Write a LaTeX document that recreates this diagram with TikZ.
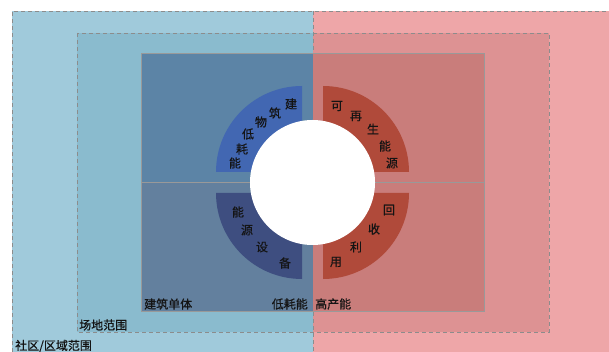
\documentclass[tikz,border=0pt]{standalone}
\usepackage{fontspec}
\setmainfont{Noto Sans CJK SC}
\newfontfamily\medfont{Noto Sans CJK SC}[FakeBold=0.6]
\definecolor{outblue}{HTML}{A0CADB}
\definecolor{outpink}{HTML}{EEA6A8}
\definecolor{midblue}{HTML}{8ABBCE}
\definecolor{midpink}{HTML}{DD9293}
\definecolor{inblueT}{HTML}{5C84A6}
\definecolor{inblueB}{HTML}{63809E}
\definecolor{inpink}{HTML}{C97D7B}
\definecolor{secblue}{HTML}{4267B2}
\definecolor{secnavy}{HTML}{3E4E80}
\definecolor{secred}{HTML}{B04A3A}
\definecolor{txt}{HTML}{141414}
\begin{document}
\begin{tikzpicture}[x=1pt,y=-1pt,
  dashbox/.style={draw=black!45, dash pattern=on 4pt off 3pt, line width=0.6pt},
  innerline/.style={draw=black!40, line width=0.6pt},
  lab/.style={inner sep=0pt, text=txt, font=\medfont\fontsize{12}{12}\selectfont},
  ch/.style={inner sep=0pt, text=txt, font=\medfont\fontsize{12}{12}\selectfont}]
\useasboundingbox (0,0) rectangle (609,352);
% outer region
\fill[outblue] (12,11) rectangle (313,352);
\fill[outpink] (313,11) rectangle (609,352);
% site region
\fill[midblue] (77,33) rectangle (313,332);
\fill[midpink] (313,33) rectangle (549,332);
% dashed frames
\draw[dashbox] (12,352) -- (12,11) -- (609,11);
\draw[dashbox] (77,33) rectangle (549,332);
\draw[dashbox] (313,11) -- (313,352);
% building
\fill[inblueT] (141,53) rectangle (313,182);
\fill[inblueB] (141,182) rectangle (313,311);
\fill[inpink] (313,53) rectangle (484,311);
\draw[innerline] (141,53) rectangle (484,311);
\draw[innerline] (141,182) -- (484,182);
% sectors
\coordinate (cUL) at (302,172);
\coordinate (cUR) at (323,172);
\coordinate (cLL) at (302,193);
\coordinate (cLR) at (323,193);
\fill[secblue] (cUL) -- ++(-86,0) arc[start angle=180, end angle=270, radius=86] -- cycle;
\fill[secred] (cUR) -- ++(0,-86) arc[start angle=270, end angle=360, radius=86] -- cycle;
\fill[secnavy] (cLL) -- ++(-86,0) arc[start angle=180, end angle=90, radius=86] -- cycle;
\fill[secred] (cLR) -- ++(86,0) arc[start angle=0, end angle=90, radius=86] -- cycle;
% centre circle
\fill[white] (312.5,182.5) circle[radius=62.5];
% sector characters
\node[ch] (a1) at (291,104) {建};
\node[ch] (a2) at (275,113) {筑};
\node[ch] (a3) at (261,122) {物};
\node[ch] (a4) at (248,134) {低};
\node[ch] (a5) at (242,149) {耗};
\node[ch] (a6) at (235,163) {能};
\node[ch] (b1) at (337,106) {可};
\node[ch] (b2) at (356,116) {再};
\node[ch] (b3) at (373,129) {生};
\node[ch] (b4) at (385,146) {能};
\node[ch] (b5) at (392,163) {源};
\node[ch] (c1) at (238,212) {能};
\node[ch] (c2) at (247,230) {源};
\node[ch] (c3) at (262,247) {设};
\node[ch] (c4) at (285,263) {备};
\node[ch] (d1) at (389,210) {回};
\node[ch] (d2) at (374,229) {收};
\node[ch] (d3) at (356,247) {利};
\node[ch] (d4) at (336,262) {用};
% labels
\node[lab, anchor=west] (l1) at (15,346) {社区/区域范围};
\node[lab, anchor=west] (l2) at (79,325) {场地范围};
\node[lab, anchor=west] (l3) at (144,304) {建筑单体};
\node[lab, anchor=east] (l4) at (308,304) {低耗能};
\node[lab, anchor=west] (l5) at (315,304) {高产能};
\end{tikzpicture}
\end{document}
